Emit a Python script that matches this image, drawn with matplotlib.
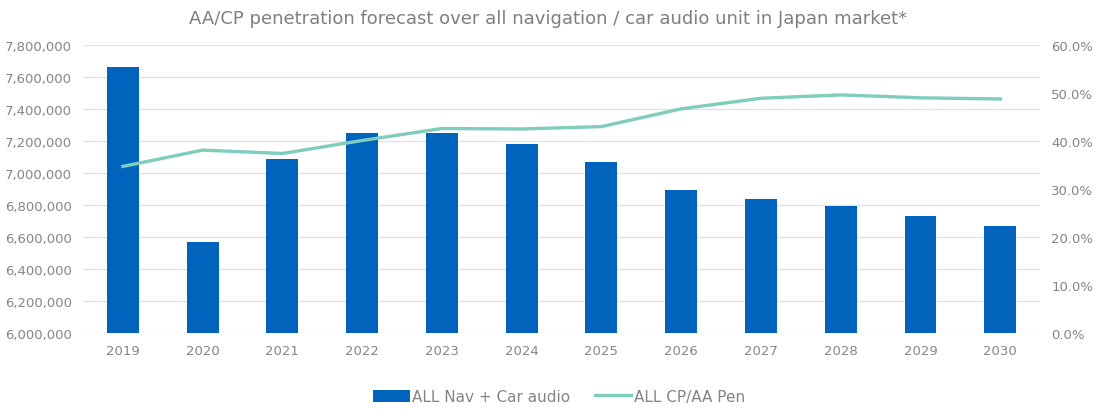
import numpy as np
import matplotlib.pyplot as plt
from matplotlib.ticker import FuncFormatter

years = ["2019", "2020", "2021", "2022", "2023", "2024",
         "2025", "2026", "2027", "2028", "2029", "2030"]
units = [7665000, 6571000, 7088000, 7250000, 7252000, 7181000,
         7067000, 6892000, 6840000, 6792000, 6731000, 6667000]
pen = [34.7, 38.1, 37.4, 40.1, 42.6, 42.5,
       43.0, 46.7, 48.9, 49.6, 49.0, 48.75]

bar_color = "#0064BD"
line_color = "#7ECDBD"
txt = "#858585"

fig = plt.figure(figsize=(10.96, 4.10), dpi=100)
ax = fig.add_axes([0.0757, 0.1854, 0.8733, 0.7024])
x = np.arange(len(years))

ax.bar(x, units, width=0.4, color=bar_color, zorder=2, label="ALL Nav + Car audio")
ax.set_ylim(6000000, 7800000)
ax.set_yticks(np.arange(6000000, 7800001, 200000))
ax.yaxis.set_major_formatter(FuncFormatter(lambda v, p: f"{int(v):,}"))
ax.set_xlim(-0.5, len(years) - 0.5)
ax.set_xticks(x)
ax.set_xticklabels(years)
ax.grid(axis="y", color="#e3e3e3", linewidth=1, zorder=0)
ax.set_axisbelow(True)
for s in ax.spines.values():
    s.set_visible(False)
ax.tick_params(length=0, labelsize=9.5, colors=txt, pad=8)

ax2 = ax.twinx()
ax2.plot(x, pen, color=line_color, linewidth=2.4, label="ALL CP/AA Pen", zorder=3)
ax2.set_ylim(0, 60)
ax2.set_yticks(np.arange(0, 61, 10))
ax2.yaxis.set_major_formatter(FuncFormatter(lambda v, p: f"{v:.1f}%"))
for s in ax2.spines.values():
    s.set_visible(False)
ax2.tick_params(length=0, labelsize=9.5, colors=txt, pad=8)

fig.suptitle("AA/CP penetration forecast over all navigation / car audio unit in Japan market*",
             y=0.975, fontsize=13, color="#7f7f7f")

h1, l1 = ax.get_legend_handles_labels()
h2, l2 = ax2.get_legend_handles_labels()
fig.legend(h1 + h2, l1 + l2, loc="center", bbox_to_anchor=(0.51, 0.03), ncol=2,
           frameon=False, fontsize=11, labelcolor=txt, handlelength=2.4,
           handleheight=0.9, handletextpad=0.15, columnspacing=1.6)

fig.savefig("out.png")
